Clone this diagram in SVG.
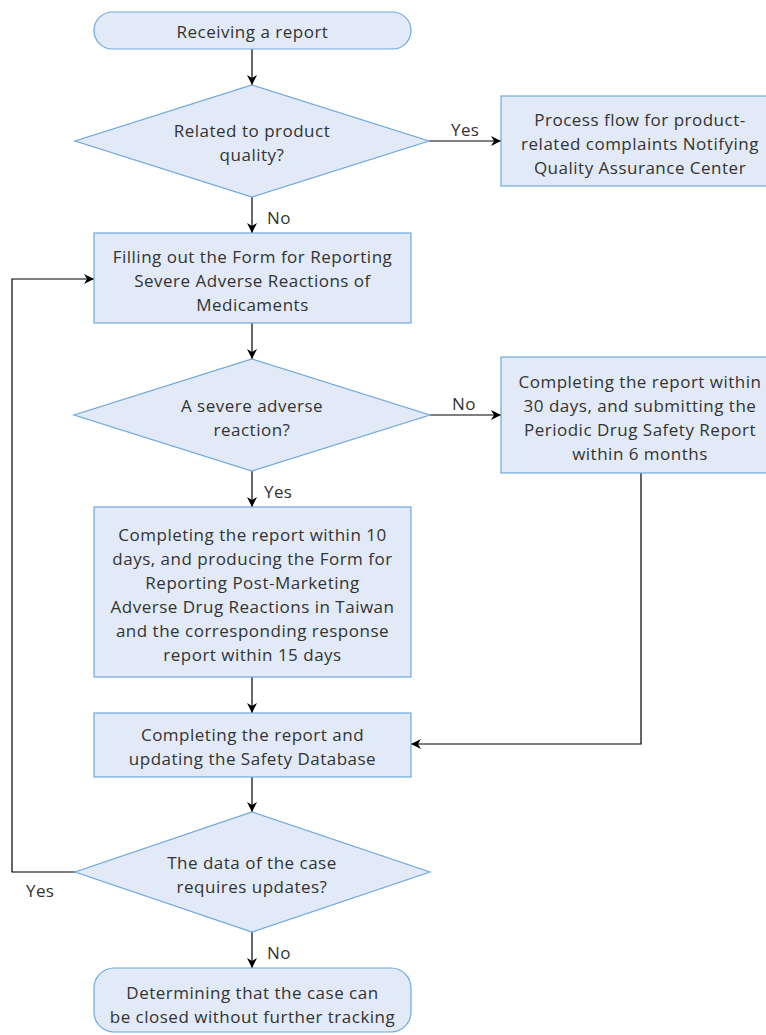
<svg xmlns="http://www.w3.org/2000/svg" width="766" height="1035" viewBox="0 0 766 1035">
<defs>
<marker id="arr" viewBox="0 0 10 10" refX="10" refY="5" markerWidth="10" markerHeight="10" markerUnits="userSpaceOnUse" orient="auto"><path d="M0,0 L10,5 L0,10 L3,5 Z" fill="#000"/></marker>
<style>
.n{fill:#e1eaf6;stroke:#6fa8dc;stroke-width:1.2}
.t{font-family:"Open Sans","Liberation Sans",sans-serif;font-size:17px;letter-spacing:0.5px;fill:#333;text-anchor:middle;dominant-baseline:central}
.c{fill:none;stroke:#000;stroke-width:1.2}
.cl{font-family:"Open Sans","Liberation Sans",sans-serif;font-size:17px;letter-spacing:0.4px;fill:#333;dominant-baseline:central}
</style>
</defs>
<rect width="766" height="1035" fill="#fff"/>
<g id="connectors">
<path class="c" d="M252,49 V85" marker-end="url(#arr)"/>
<path class="c" d="M429,141 H501" marker-end="url(#arr)"/>
<path class="c" d="M252,197 V233" marker-end="url(#arr)"/>
<path class="c" d="M252,323 V359" marker-end="url(#arr)"/>
<path class="c" d="M430,415 H501" marker-end="url(#arr)"/>
<path class="c" d="M252,471 V507" marker-end="url(#arr)"/>
<path class="c" d="M252,677 V713" marker-end="url(#arr)"/>
<path class="c" d="M641,473 V744 H411" marker-end="url(#arr)"/>
<path class="c" d="M252,777 V812" marker-end="url(#arr)"/>
<path class="c" d="M75,872 H12 V279 H94" marker-end="url(#arr)"/>
<path class="c" d="M252,932 V968" marker-end="url(#arr)"/>
<text class="cl" x="451" y="129">Yes</text>
<text class="cl" x="267" y="217">No</text>
<text class="cl" x="452" y="403">No</text>
<text class="cl" x="264" y="491">Yes</text>
<text class="cl" x="26" y="890">Yes</text>
<text class="cl" x="267" y="952">No</text>
</g>
<g id="start">
<rect class="n" x="94" y="12" width="317" height="37" rx="18.5"/>
<text class="t" x="252.5" y="31">Receiving a report</text>
</g>
<g id="d1">
<polygon class="n" points="252,85 429,141 252,197 75,141"/>
<text class="t" x="252" y="130">Related to product</text>
<text class="t" x="252" y="154">quality?</text>
</g>
<g id="qa">
<rect class="n" x="501" y="96" width="278" height="90"/>
<text class="t" x="640" y="119">Process flow for product-</text>
<text class="t" x="640" y="143">related complaints Notifying</text>
<text class="t" x="640" y="167">Quality Assurance Center</text>
</g>
<g id="form">
<rect class="n" x="94" y="233" width="317" height="90"/>
<text class="t" x="252.5" y="256">Filling out the Form for Reporting</text>
<text class="t" x="252.5" y="280">Severe Adverse Reactions of</text>
<text class="t" x="252.5" y="304">Medicaments</text>
</g>
<g id="d2">
<polygon class="n" points="252,359 430,415 252,471 74,415"/>
<text class="t" x="252" y="405">A severe adverse</text>
<text class="t" x="252" y="429">reaction?</text>
</g>
<g id="periodic">
<rect class="n" x="501" y="357" width="278" height="116"/>
<text class="t" x="640" y="381">Completing the report within</text>
<text class="t" x="640" y="405">30 days, and submitting the</text>
<text class="t" x="640" y="429">Periodic Drug Safety Report</text>
<text class="t" x="640" y="453">within 6 months</text>
</g>
<g id="tenday">
<rect class="n" x="94" y="507" width="317" height="170"/>
<text class="t" x="252.5" y="534">Completing the report within 10</text>
<text class="t" x="252.5" y="558">days, and producing the Form for</text>
<text class="t" x="252.5" y="582">Reporting Post-Marketing</text>
<text class="t" x="252.5" y="606">Adverse Drug Reactions in Taiwan</text>
<text class="t" x="252.5" y="630">and the corresponding response</text>
<text class="t" x="252.5" y="654">report within 15 days</text>
</g>
<g id="update">
<rect class="n" x="94" y="713" width="317" height="64"/>
<text class="t" x="252.5" y="734">Completing the report and</text>
<text class="t" x="252.5" y="758">updating the Safety Database</text>
</g>
<g id="d3">
<polygon class="n" points="252,812 430,872 252,932 75,872"/>
<text class="t" x="252" y="862">The data of the case</text>
<text class="t" x="252" y="886">requires updates?</text>
</g>
<g id="end">
<rect class="n" x="94" y="968" width="317" height="64" rx="20"/>
<text class="t" x="252.5" y="992">Determining that the case can</text>
<text class="t" x="252.5" y="1016">be closed without further tracking</text>
</g>
</svg>
